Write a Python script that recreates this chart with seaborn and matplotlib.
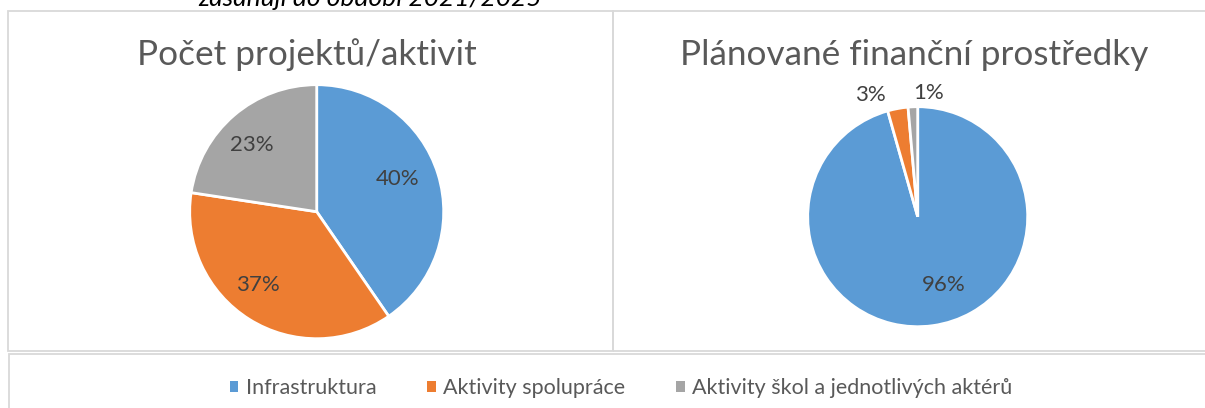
import matplotlib
matplotlib.use("Agg")
import matplotlib.pyplot as plt
from matplotlib.patches import Rectangle, Patch
import seaborn as sns

# ---- data ----
categories = ["Infrastruktura", "Aktivity spolupráce", "Aktivity škol a jednotlivých aktérů"]
count_share = [40.4, 37.0, 22.6]      # Počet projektů/aktivit (%)
money_share = [95.6, 3.0, 1.4]        # Plánované finanční prostředky (%)
titles = ["Počet projektů/aktivit", "Plánované finanční prostředky"]
top_note = "zasahují do období 2021/2025"

colors = ["#5B9BD5", "#ED7D31", "#A5A5A5"]

sns.set_theme(style="white")
plt.rcParams["font.family"] = ["Lato", "DejaVu Sans"]

W, H = 1205, 408
fig = plt.figure(figsize=(W / 100, H / 100), dpi=100)
fig.patch.set_facecolor("white")

def px_rect(x0, y0, x1, y1):
    return (x0 / W, 1 - y1 / H, (x1 - x0) / W, (y1 - y0) / H)

border = "#D9D9D9"
for (x0, y0, x1, y1) in [(8, 10.7, 613, 350.7), (613, 10.7, 1210, 350.7), (9, 354.3, 1210, 415)]:
    l, b, w, h = px_rect(x0, y0, x1, y1)
    fig.patches.append(Rectangle((l, b), w, h, transform=fig.transFigure,
                                 fill=False, edgecolor=border, linewidth=1.3, zorder=0))

# top note (cut off at the top edge in the source as well)
fig.text(198 / W, 1 - 6.5 / H, top_note, fontsize=19, style="italic",
         color="#000000", ha="left", va="baseline")

# pies
pies = [
    dict(vals=count_share, cx=316.7, cy=211.7, r=127,
         lab=[(0.64, 0.256), (-0.464, -0.577), (-0.512, 0.525)]),
    dict(vals=money_share, cx=917.7, cy=216.7, r=110,
         lab=[(0.24, -0.62), (-0.434, 1.106), (0.103, 1.122)]),
]
for i, p in enumerate(pies):
    cx, cy, r = p["cx"], p["cy"], p["r"]
    ax = fig.add_axes(px_rect(cx - r, cy - r, cx + r, cy + r))
    wedges, texts, autotexts = ax.pie(
        p["vals"], colors=colors, startangle=90, counterclock=False,
        autopct="%.0f%%", pctdistance=0.7,
        wedgeprops=dict(edgecolor="white", linewidth=2),
        textprops=dict(fontsize=16, color="#404040"))
    for t, pos in zip(autotexts, p["lab"]):
        t.set_position(pos)
        t.set_ha("center"); t.set_va("center")
    ax.set_xlim(-1, 1); ax.set_ylim(-1, 1)
    ax.set_aspect("equal")
    ax.axis("off")

# titles
fig.text(307 / W, 1 - 65 / H, titles[0], fontsize=25.3, color="#595959",
         ha="center", va="baseline")
fig.text(914 / W, 1 - 65 / H, titles[1], fontsize=25.3, color="#595959",
         ha="center", va="baseline")

handles = [Patch(facecolor=c, edgecolor="none") for c in colors]
fig.legend(handles, categories, loc="center", bbox_to_anchor=(621 / W, 1 - 388 / H),
           ncol=3, frameon=False, fontsize=15.5, handlelength=0.4, handleheight=0.4,
           handletextpad=0.35, columnspacing=2.35, labelcolor="#595959")

fig.savefig("out.png", dpi=100, facecolor="white")
